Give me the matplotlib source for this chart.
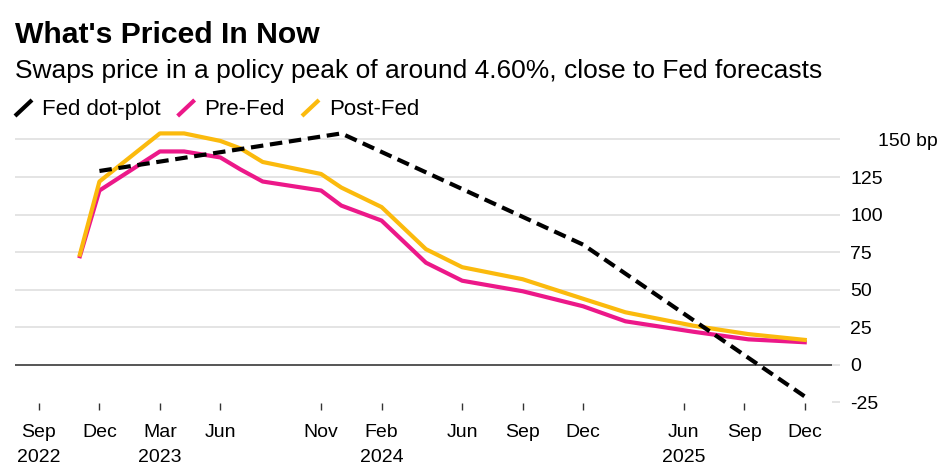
import matplotlib
matplotlib.use("Agg")
import matplotlib.pyplot as plt
import matplotlib.transforms as mtransforms
from matplotlib.lines import Line2D

plt.rcParams['font.family'] = ['Liberation Sans', 'DejaVu Sans']

# x = months since Sep 2022, as spaced on the source chart's axis
dot_x = [3, 15, 27, 38]
dot_y = [129, 154, 80, -21]

swap_x = [2, 3, 6, 7.2, 9, 10, 11.1, 14, 15, 17, 19.2, 21, 24, 27, 29.1, 32.5, 35.2, 38.1]
pre_fed = [71, 116, 142, 142, 138, 130, 122, 116, 106, 96, 68, 56, 49, 39, 29, 22, 17, 15]
post_fed = [72, 122, 154, 154, 149, 144, 135, 127, 118, 105, 77, 65, 57, 44, 35, 26, 20.5, 16.5]

tick_pos = [0, 3, 6, 9, 14, 17, 21, 24, 27, 32, 35, 38]
tick_lbl = ['Sep\n2022', 'Dec', 'Mar\n2023', 'Jun', 'Nov', 'Feb\n2024',
            'Jun', 'Sep', 'Dec', 'Jun\n2025', 'Sep', 'Dec']

y_ticks = [-25, 0, 25, 50, 75, 100, 125, 150]
y_lbl = ['-25', '0', '25', '50', '75', '100', '125', '150 bp']

names = ['Fed dot-plot', 'Pre-Fed', 'Post-Fed']
colors = ['#000000', '#ec1889', '#fbba0d']

W, H = 950, 471
fig = plt.figure(figsize=(9.5, 4.71), dpi=100)
ax = fig.add_axes([15 / W, 1 - 410 / H, (832 - 15) / W, (410 - 127.4) / H])

for v in y_ticks[2:]:
    ax.axhline(v, color='#e2e2e2', lw=1.3, zorder=1)
ax.axhline(0, color='#555555', lw=1.4, zorder=2)

ax.plot(swap_x, pre_fed, color=colors[1], lw=3, solid_capstyle='butt', zorder=3)
ax.plot(swap_x, post_fed, color=colors[2], lw=3, solid_capstyle='butt', zorder=4)
ax.plot(dot_x, dot_y, color=colors[0], lw=3, dashes=(3.0, 1.6), zorder=5)

ax.set_xlim(-1.19, 39.35)
ax.set_ylim(-30, 158)
for s in ax.spines.values():
    s.set_visible(False)

ax.set_xticks(tick_pos)
ax.set_xticklabels(tick_lbl, fontsize=14, linespacing=1.6)
ax.tick_params(axis='x', direction='in', length=5, width=1, color='#333333', pad=10)

ax.yaxis.tick_right()
ax.set_yticks(y_ticks)
ax.set_yticklabels(y_lbl, fontsize=14)
ax.tick_params(axis='y', direction='out', length=6, width=1.3, color='#e2e2e2', pad=7)
labels = ax.get_yticklabels()
for lab in labels:
    lab.set_horizontalalignment('left')
# the top label with the unit sits further right
shift = mtransforms.ScaledTranslation(28 / 100, 0, fig.dpi_scale_trans)
labels[-1].set_transform(labels[-1].get_transform() + shift)

fig.text(15 / W, 1 - 43 / H, "What's Priced In Now", fontsize=21.7, fontweight='bold',
         va='baseline', ha='left')
fig.text(15 / W, 1 - 78 / H, "Swaps price in a policy peak of around 4.60%, close to Fed forecasts",
         fontsize=19, va='baseline', ha='left')

# legend: slanted strokes followed by names
fig.canvas.draw()
renderer = fig.canvas.get_renderer()
x = 15
for name, c in zip(names, colors):
    fig.add_artist(Line2D([x / W, (x + 17) / W], [1 - 116 / H, 1 - 100 / H],
                          color=c, lw=3, solid_capstyle='butt'))
    t = fig.text((x + 27) / W, 1 - 115 / H, name, fontsize=16, va='baseline', ha='left')
    bb = t.get_window_extent(renderer)
    x = bb.x1 + 17

fig.savefig('out.png', dpi=100)
